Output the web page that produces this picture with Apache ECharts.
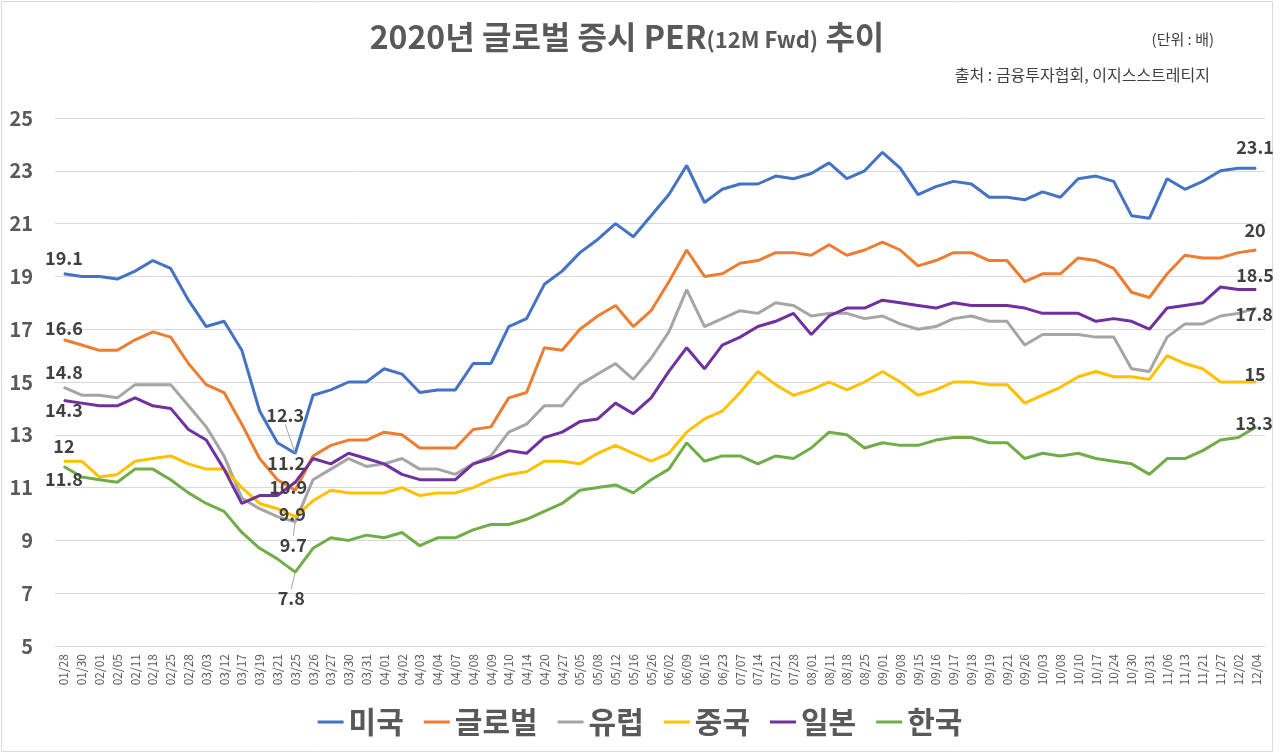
<!DOCTYPE html>
<html>
<head>
<meta charset="utf-8">
<title>2020년 글로벌 증시 PER 추이</title>
<script src="https://cdn.jsdelivr.net/npm/echarts@6/dist/echarts.min.js"></script>
<style>
  html, body { margin: 0; padding: 0; background: #fff; }
  #main { width: 1280px; height: 754px; }
</style>
</head>
<body>
<div id="main"></div>
<script>
// 날짜 (x축)
var dates = ['01/28','01/30','02/01','02/05','02/11','02/18','02/25','02/28','03/03','03/12',
  '03/17','03/19','03/21','03/25','03/26','03/27','03/30','03/31','04/01','04/02',
  '04/03','04/04','04/07','04/08','04/09','04/10','04/14','04/20','04/27','05/05',
  '05/08','05/12','05/16','05/26','06/02','06/09','06/16','06/23','07/07','07/14',
  '07/21','07/28','08/01','08/11','08/18','08/25','09/01','09/08','09/15','09/16',
  '09/17','09/18','09/19','09/21','09/26','10/03','10/08','10/10','10/17','10/24',
  '10/30','10/31','11/06','11/13','11/21','11/27','12/02','12/04'];

var usa = [19.1,19.0,19.0,18.9,19.2,19.6,19.3,18.1,17.1,17.3,
  16.2,13.9,12.7,12.3,14.5,14.7,15.0,15.0,15.5,15.3,
  14.6,14.7,14.7,15.7,15.7,17.1,17.4,18.7,19.2,19.9,
  20.4,21.0,20.5,21.3,22.1,23.2,21.8,22.3,22.5,22.5,
  22.8,22.7,22.9,23.3,22.7,23.0,23.7,23.1,22.1,22.4,
  22.6,22.5,22.0,22.0,21.9,22.2,22.0,22.7,22.8,22.6,
  21.3,21.2,22.7,22.3,22.6,23.0,23.1,23.1];

var glob = [16.6,16.4,16.2,16.2,16.6,16.9,16.7,15.7,14.9,14.6,
  13.4,12.1,11.3,10.9,12.2,12.6,12.8,12.8,13.1,13.0,
  12.5,12.5,12.5,13.2,13.3,14.4,14.6,16.3,16.2,17.0,
  17.5,17.9,17.1,17.7,18.8,20.0,19.0,19.1,19.5,19.6,
  19.9,19.9,19.8,20.2,19.8,20.0,20.3,20.0,19.4,19.6,
  19.9,19.9,19.6,19.6,18.8,19.1,19.1,19.7,19.6,19.3,
  18.4,18.2,19.1,19.8,19.7,19.7,19.9,20.0];

var europe = [14.8,14.5,14.5,14.4,14.9,14.9,14.9,14.1,13.3,12.2,
  10.6,10.2,9.9,9.7,11.3,11.7,12.1,11.8,11.9,12.1,
  11.7,11.7,11.5,11.9,12.2,13.1,13.4,14.1,14.1,14.9,
  15.3,15.7,15.1,15.9,16.9,18.5,17.1,17.4,17.7,17.6,
  18.0,17.9,17.5,17.6,17.6,17.4,17.5,17.2,17.0,17.1,
  17.4,17.5,17.3,17.3,16.4,16.8,16.8,16.8,16.7,16.7,
  15.5,15.4,16.7,17.2,17.2,17.5,17.6,17.8];

var china = [12.0,12.0,11.4,11.5,12.0,12.1,12.2,11.9,11.7,11.7,
  11.0,10.4,10.2,9.9,10.5,10.9,10.8,10.8,10.8,11.0,
  10.7,10.8,10.8,11.0,11.3,11.5,11.6,12.0,12.0,11.9,
  12.3,12.6,12.3,12.0,12.3,13.1,13.6,13.9,14.6,15.4,
  14.9,14.5,14.7,15.0,14.7,15.0,15.4,15.0,14.5,14.7,
  15.0,15.0,14.9,14.9,14.2,14.5,14.8,15.2,15.4,15.2,
  15.2,15.1,16.0,15.7,15.5,15.0,15.0,15.0];

var japan = [14.3,14.2,14.1,14.1,14.4,14.1,14.0,13.2,12.8,11.7,
  10.4,10.7,10.7,11.2,12.1,11.9,12.3,12.1,11.9,11.5,
  11.3,11.3,11.3,11.9,12.1,12.4,12.3,12.9,13.1,13.5,
  13.6,14.2,13.8,14.4,15.4,16.3,15.5,16.4,16.7,17.1,
  17.3,17.6,16.8,17.5,17.8,17.8,18.1,18.0,17.9,17.8,
  18.0,17.9,17.9,17.9,17.8,17.6,17.6,17.6,17.3,17.4,
  17.3,17.0,17.8,17.9,18.0,18.6,18.5,18.5];

var korea = [11.8,11.4,11.3,11.2,11.7,11.7,11.3,10.8,10.4,10.1,
  9.3,8.7,8.3,7.8,8.7,9.1,9.0,9.2,9.1,9.3,
  8.8,9.1,9.1,9.4,9.6,9.6,9.8,10.1,10.4,10.9,
  11.0,11.1,10.8,11.3,11.7,12.7,12.0,12.2,12.2,11.9,
  12.2,12.1,12.5,13.1,13.0,12.5,12.7,12.6,12.6,12.8,
  12.9,12.9,12.7,12.7,12.1,12.3,12.2,12.3,12.1,12.0,
  11.9,11.5,12.1,12.1,12.4,12.8,12.9,13.3];

var names = ['미국', '글로벌', '유럽', '중국', '일본', '한국'];
var colors = ['#4472C4', '#ED7D31', '#A5A5A5', '#FFC000', '#7030A0', '#70AD47'];
var values = [usa, glob, europe, china, japan, korea];

// 라벨 위치 (첫 점, 저점, 끝 점): [dx, dy, 지시선]
var labelPos = [
  {0: [0, -16], 13: [-10, -38, true], 67: [-1, -21]},
  {0: [0, -12], 13: [-7, -3], 67: [-1, -20]},
  {0: [0, -15], 13: [-2, 23, true], 67: [-2, 6]},
  {0: [0, -15], 13: [-3, -2], 67: [-1, -8]},
  {0: [0, 10], 13: [-9, -19], 67: [-1, -14]},
  {0: [0, 13], 13: [-4, 26, true], 67: [-2, -4]}
];

var font = 'Noto Sans CJK KR';
var myChart = echarts.init(document.getElementById('main'));

var series = names.map(function (name, s) {
  var data = values[s].map(function (v, i) {
    var p = labelPos[s][i];
    if (!p) return v;
    return {
      value: v,
      label: {show: true, position: 'inside'},
      labelLine: {show: !!p[2], lineStyle: {color: '#A5A5A5', width: 1}}
    };
  });
  return {
    name: name,
    type: 'line',
    data: data,
    symbol: 'circle',
    symbolSize: 1,
    showAllSymbol: true,
    lineStyle: {width: 3, color: colors[s]},
    itemStyle: {color: colors[s]},
    label: {
      show: false,
      fontFamily: font,
      fontSize: 18,
      fontWeight: 'bold',
      color: '#404040'
    },
    labelLayout: function (params) {
      var p = labelPos[s][params.dataIndex];
      if (!p) return {};
      return {dx: p[0], dy: p[1]};
    },
    emphasis: {disabled: true},
    animation: false
  };
});

myChart.setOption({
  color: colors,
  textStyle: {fontFamily: font},
  title: {
    left: 622,
    top: 16,
    textAlign: 'center',
    text: '{a|2020년 글로벌 증시 PER}{b|(12M Fwd)}{a| 추이}',
    textStyle: {
      rich: {
        a: {fontFamily: font, fontSize: 32, fontWeight: 'bold', color: '#595959'},
        b: {fontFamily: font, fontSize: 22, fontWeight: 'bold', color: '#595959', padding: [6, 0, 0, 0]}
      }
    }
  },
  graphic: [
    {type: 'rect', shape: {x: 1.5, y: 1.5, width: 1271, height: 750}, silent: true,
      style: {fill: 'none', stroke: '#D9D9D9', lineWidth: 1}},
    {type: 'text', right: 66, top: 32,
      style: {text: '(단위 : 배)', font: '15px "Noto Sans CJK KR"', fill: '#404040'}},
    {type: 'text', right: 70, top: 67,
      style: {text: '출처 : 금융투자협회, 이지스스트레티지', font: '16px "Noto Sans CJK KR"', fill: '#404040'}}
  ],
  legend: {
    data: names,
    left: 'center',
    top: 702,
    icon: 'rect',
    itemWidth: 26,
    itemHeight: 3,
    itemGap: 20,
    textStyle: {fontFamily: font, fontSize: 30, fontWeight: 'bold', color: '#595959'}
  },
  grid: {left: 55, right: 15, top: 118, bottom: 108, containLabel: false},
  xAxis: {
    type: 'category',
    data: dates,
    boundaryGap: true,
    axisLine: {lineStyle: {color: '#D9D9D9'}},
    axisTick: {show: false},
    axisLabel: {
      interval: 0,
      rotate: 90,
      margin: 8,
      fontFamily: font,
      fontSize: 12,
      color: '#595959'
    }
  },
  yAxis: {
    type: 'value',
    min: 5,
    max: 25,
    interval: 2,
    axisLine: {show: false},
    axisTick: {show: false},
    splitLine: {lineStyle: {color: '#D9D9D9', width: 1}},
    axisLabel: {
      margin: 22,
      fontFamily: font,
      fontSize: 20,
      fontWeight: 'bold',
      color: '#595959'
    }
  },
  series: series
});
</script>
</body>
</html>
